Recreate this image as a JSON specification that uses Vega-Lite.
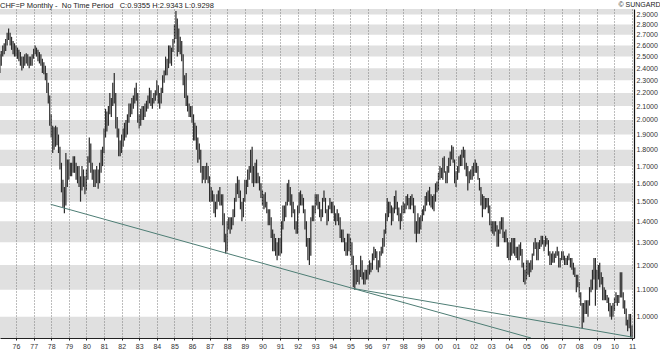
{
"$schema":"https://vega.github.io/schema/vega-lite/v6.json",
"width":634,"height":329,
"autosize":{"type":"none"},
"padding":{"left":0,"top":9,"right":26,"bottom":15},
"background":"white",
"config":{"view":{"stroke":null},"font":"Liberation Sans"},
"title":{"text":"CHF=P Monthly -\u00a0 No Time Period\u00a0\u00a0 C:0.9355 H:2.9343 L:0.9298","anchor":"start","frame":"group","fontSize":7.5,"fontWeight":"normal","color":"#222","offset":-9},
"datasets":{
"bands":[{"lo":0.928,"hi":1.0},{"lo":1.1,"hi":1.2},{"lo":1.3,"hi":1.4},{"lo":1.5,"hi":1.6},{"lo":1.7,"hi":1.8},{"lo":1.9,"hi":2.0},{"lo":2.1,"hi":2.2},{"lo":2.3,"hi":2.4},{"lo":2.5,"hi":2.6},{"lo":2.7,"hi":2.8},{"lo":2.9,"hi":2.956}],
"lines":[{"id":"a","d":"1977-12-20","p":1.486},{"id":"a","d":"2005-04-05","p":0.928},{"id":"b","d":"1995-02-24","p":1.105},{"id":"b","d":"2011-01-01","p":0.931}],
"bars":[
{"m":"1975-02","l":2.36,"h":2.52},{"m":"1975-03","l":2.42,"h":2.55},{"m":"1975-04","l":2.50,"h":2.60},{"m":"1975-05","l":2.52,"h":2.62},{"m":"1975-06","l":2.55,"h":2.66},{"m":"1975-07","l":2.60,"h":2.72},{"m":"1975-08","l":2.65,"h":2.76},{"m":"1975-09","l":2.60,"h":2.72},{"m":"1975-10","l":2.56,"h":2.68},{"m":"1975-11","l":2.52,"h":2.64},{"m":"1975-12","l":2.50,"h":2.62},
{"m":"1976-01","l":2.50,"h":2.60},{"m":"1976-02","l":2.48,"h":2.58},{"m":"1976-03","l":2.46,"h":2.56},{"m":"1976-04","l":2.42,"h":2.54},{"m":"1976-05","l":2.38,"h":2.50},{"m":"1976-06","l":2.40,"h":2.50},{"m":"1976-07","l":2.42,"h":2.52},{"m":"1976-08","l":2.44,"h":2.53},{"m":"1976-09","l":2.42,"h":2.52},{"m":"1976-10","l":2.40,"h":2.50},{"m":"1976-11","l":2.42,"h":2.50},{"m":"1976-12","l":2.42,"h":2.52},
{"m":"1977-01","l":2.48,"h":2.57},{"m":"1977-02","l":2.52,"h":2.60},{"m":"1977-03","l":2.50,"h":2.58},{"m":"1977-04","l":2.46,"h":2.56},{"m":"1977-05","l":2.44,"h":2.54},{"m":"1977-06","l":2.42,"h":2.52},{"m":"1977-07","l":2.36,"h":2.48},{"m":"1977-08","l":2.35,"h":2.45},{"m":"1977-09","l":2.30,"h":2.42},{"m":"1977-10","l":2.20,"h":2.36},{"m":"1977-11","l":2.12,"h":2.28},{"m":"1977-12","l":1.96,"h":2.18},
{"m":"1978-01","l":1.88,"h":2.04},{"m":"1978-02","l":1.78,"h":1.96},{"m":"1978-03","l":1.80,"h":1.95},{"m":"1978-04","l":1.82,"h":1.96},{"m":"1978-05","l":1.83,"h":1.95},{"m":"1978-06","l":1.78,"h":1.90},{"m":"1978-07","l":1.68,"h":1.82},{"m":"1978-08","l":1.55,"h":1.72},{"m":"1978-09","l":1.47,"h":1.62},{"m":"1978-10","l":1.44,"h":1.58},{"m":"1978-11","l":1.48,"h":1.78},{"m":"1978-12","l":1.58,"h":1.74},
{"m":"1979-01","l":1.62,"h":1.74},{"m":"1979-02","l":1.64,"h":1.72},{"m":"1979-03","l":1.64,"h":1.72},{"m":"1979-04","l":1.66,"h":1.76},{"m":"1979-05","l":1.66,"h":1.76},{"m":"1979-06","l":1.62,"h":1.72},{"m":"1979-07","l":1.60,"h":1.70},{"m":"1979-08","l":1.58,"h":1.70},{"m":"1979-09","l":1.50,"h":1.64},{"m":"1979-10","l":1.56,"h":1.70},{"m":"1979-11","l":1.58,"h":1.68},{"m":"1979-12","l":1.54,"h":1.64},
{"m":"1980-01","l":1.56,"h":1.68},{"m":"1980-02","l":1.62,"h":1.76},{"m":"1980-03","l":1.72,"h":1.88},{"m":"1980-04","l":1.66,"h":1.84},{"m":"1980-05","l":1.62,"h":1.72},{"m":"1980-06","l":1.58,"h":1.68},{"m":"1980-07","l":1.58,"h":1.68},{"m":"1980-08","l":1.60,"h":1.70},{"m":"1980-09","l":1.57,"h":1.68},{"m":"1980-10","l":1.60,"h":1.72},{"m":"1980-11","l":1.66,"h":1.80},{"m":"1980-12","l":1.70,"h":1.82},
{"m":"1981-01","l":1.78,"h":1.94},{"m":"1981-02","l":1.88,"h":2.08},{"m":"1981-03","l":1.92,"h":2.06},{"m":"1981-04","l":1.96,"h":2.10},{"m":"1981-05","l":2.04,"h":2.20},{"m":"1981-06","l":2.02,"h":2.16},{"m":"1981-07","l":2.10,"h":2.28},{"m":"1981-08","l":2.12,"h":2.36},{"m":"1981-09","l":1.94,"h":2.20},{"m":"1981-10","l":1.88,"h":2.02},{"m":"1981-11","l":1.76,"h":1.94},{"m":"1981-12","l":1.76,"h":1.86},
{"m":"1982-01","l":1.78,"h":1.90},{"m":"1982-02","l":1.82,"h":1.94},{"m":"1982-03","l":1.86,"h":1.98},{"m":"1982-04","l":1.88,"h":2.00},{"m":"1982-05","l":1.90,"h":2.04},{"m":"1982-06","l":1.98,"h":2.12},{"m":"1982-07","l":2.02,"h":2.12},{"m":"1982-08","l":2.04,"h":2.16},{"m":"1982-09","l":2.08,"h":2.18},{"m":"1982-10","l":2.12,"h":2.24},{"m":"1982-11","l":2.14,"h":2.28},{"m":"1982-12","l":1.98,"h":2.20},
{"m":"1983-01","l":1.94,"h":2.04},{"m":"1983-02","l":1.96,"h":2.08},{"m":"1983-03","l":2.00,"h":2.10},{"m":"1983-04","l":2.00,"h":2.10},{"m":"1983-05","l":2.02,"h":2.12},{"m":"1983-06","l":2.06,"h":2.14},{"m":"1983-07","l":2.08,"h":2.18},{"m":"1983-08","l":2.12,"h":2.24},{"m":"1983-09","l":2.10,"h":2.22},{"m":"1983-10","l":2.08,"h":2.16},{"m":"1983-11","l":2.12,"h":2.20},{"m":"1983-12","l":2.14,"h":2.22},
{"m":"1984-01","l":2.18,"h":2.30},{"m":"1984-02","l":2.12,"h":2.26},{"m":"1984-03","l":2.08,"h":2.20},{"m":"1984-04","l":2.12,"h":2.24},{"m":"1984-05","l":2.20,"h":2.34},{"m":"1984-06","l":2.28,"h":2.38},{"m":"1984-07","l":2.34,"h":2.50},{"m":"1984-08","l":2.34,"h":2.48},{"m":"1984-09","l":2.40,"h":2.60},{"m":"1984-10","l":2.44,"h":2.60},{"m":"1984-11","l":2.42,"h":2.58},{"m":"1984-12","l":2.54,"h":2.66},
{"m":"1985-01","l":2.62,"h":2.80},{"m":"1985-02","l":2.66,"h":2.9343},{"m":"1985-03","l":2.50,"h":2.86},{"m":"1985-04","l":2.54,"h":2.76},{"m":"1985-05","l":2.52,"h":2.68},{"m":"1985-06","l":2.46,"h":2.64},{"m":"1985-07","l":2.26,"h":2.52},{"m":"1985-08","l":2.16,"h":2.34},{"m":"1985-09","l":2.10,"h":2.36},{"m":"1985-10","l":2.06,"h":2.18},{"m":"1985-11","l":2.02,"h":2.12},{"m":"1985-12","l":2.02,"h":2.10},
{"m":"1986-01","l":1.98,"h":2.10},{"m":"1986-02","l":1.86,"h":2.04},{"m":"1986-03","l":1.86,"h":1.98},{"m":"1986-04","l":1.80,"h":1.96},{"m":"1986-05","l":1.72,"h":1.88},{"m":"1986-06","l":1.74,"h":1.84},{"m":"1986-07","l":1.66,"h":1.80},{"m":"1986-08","l":1.60,"h":1.70},{"m":"1986-09","l":1.62,"h":1.70},{"m":"1986-10","l":1.60,"h":1.70},{"m":"1986-11","l":1.62,"h":1.72},{"m":"1986-12","l":1.60,"h":1.70},
{"m":"1987-01","l":1.50,"h":1.64},{"m":"1987-02","l":1.50,"h":1.58},{"m":"1987-03","l":1.50,"h":1.56},{"m":"1987-04","l":1.44,"h":1.54},{"m":"1987-05","l":1.42,"h":1.50},{"m":"1987-06","l":1.46,"h":1.54},{"m":"1987-07","l":1.50,"h":1.56},{"m":"1987-08","l":1.48,"h":1.58},{"m":"1987-09","l":1.48,"h":1.54},{"m":"1987-10","l":1.38,"h":1.54},{"m":"1987-11","l":1.30,"h":1.44},{"m":"1987-12","l":1.25,"h":1.34},
{"m":"1988-01","l":1.26,"h":1.40},{"m":"1988-02","l":1.36,"h":1.42},{"m":"1988-03","l":1.34,"h":1.42},{"m":"1988-04","l":1.36,"h":1.42},{"m":"1988-05","l":1.38,"h":1.46},{"m":"1988-06","l":1.42,"h":1.52},{"m":"1988-07","l":1.50,"h":1.60},{"m":"1988-08","l":1.54,"h":1.64},{"m":"1988-09","l":1.52,"h":1.62},{"m":"1988-10","l":1.46,"h":1.56},{"m":"1988-11","l":1.40,"h":1.50},{"m":"1988-12","l":1.42,"h":1.52},
{"m":"1989-01","l":1.50,"h":1.62},{"m":"1989-02","l":1.54,"h":1.62},{"m":"1989-03","l":1.58,"h":1.68},{"m":"1989-04","l":1.62,"h":1.70},{"m":"1989-05","l":1.66,"h":1.80},{"m":"1989-06","l":1.60,"h":1.82},{"m":"1989-07","l":1.58,"h":1.70},{"m":"1989-08","l":1.60,"h":1.72},{"m":"1989-09","l":1.60,"h":1.74},{"m":"1989-10","l":1.60,"h":1.66},{"m":"1989-11","l":1.56,"h":1.64},{"m":"1989-12","l":1.52,"h":1.60},
{"m":"1990-01","l":1.48,"h":1.56},{"m":"1990-02","l":1.46,"h":1.54},{"m":"1990-03","l":1.47,"h":1.55},{"m":"1990-04","l":1.44,"h":1.50},{"m":"1990-05","l":1.38,"h":1.46},{"m":"1990-06","l":1.38,"h":1.46},{"m":"1990-07","l":1.32,"h":1.42},{"m":"1990-08","l":1.26,"h":1.36},{"m":"1990-09","l":1.26,"h":1.34},{"m":"1990-10","l":1.24,"h":1.32},{"m":"1990-11","l":1.22,"h":1.30},{"m":"1990-12","l":1.24,"h":1.32},
{"m":"1991-01","l":1.24,"h":1.32},{"m":"1991-02","l":1.25,"h":1.40},{"m":"1991-03","l":1.36,"h":1.48},{"m":"1991-04","l":1.40,"h":1.48},{"m":"1991-05","l":1.42,"h":1.50},{"m":"1991-06","l":1.48,"h":1.60},{"m":"1991-07","l":1.50,"h":1.62},{"m":"1991-08","l":1.48,"h":1.58},{"m":"1991-09","l":1.42,"h":1.54},{"m":"1991-10","l":1.44,"h":1.50},{"m":"1991-11","l":1.36,"h":1.46},{"m":"1991-12","l":1.34,"h":1.40},
{"m":"1992-01","l":1.34,"h":1.48},{"m":"1992-02","l":1.44,"h":1.55},{"m":"1992-03","l":1.48,"h":1.56},{"m":"1992-04","l":1.48,"h":1.54},{"m":"1992-05","l":1.44,"h":1.52},{"m":"1992-06","l":1.36,"h":1.46},{"m":"1992-07","l":1.28,"h":1.40},{"m":"1992-08","l":1.22,"h":1.32},{"m":"1992-09","l":1.20,"h":1.32},{"m":"1992-10","l":1.24,"h":1.42},{"m":"1992-11","l":1.40,"h":1.48},{"m":"1992-12","l":1.40,"h":1.48},
{"m":"1993-01","l":1.44,"h":1.54},{"m":"1993-02","l":1.48,"h":1.54},{"m":"1993-03","l":1.46,"h":1.54},{"m":"1993-04","l":1.42,"h":1.50},{"m":"1993-05","l":1.40,"h":1.46},{"m":"1993-06","l":1.42,"h":1.52},{"m":"1993-07","l":1.50,"h":1.56},{"m":"1993-08","l":1.44,"h":1.52},{"m":"1993-09","l":1.38,"h":1.46},{"m":"1993-10","l":1.40,"h":1.48},{"m":"1993-11","l":1.46,"h":1.52},{"m":"1993-12","l":1.44,"h":1.50},
{"m":"1994-01","l":1.44,"h":1.50},{"m":"1994-02","l":1.40,"h":1.48},{"m":"1994-03","l":1.38,"h":1.44},{"m":"1994-04","l":1.40,"h":1.46},{"m":"1994-05","l":1.38,"h":1.44},{"m":"1994-06","l":1.32,"h":1.42},{"m":"1994-07","l":1.30,"h":1.36},{"m":"1994-08","l":1.30,"h":1.36},{"m":"1994-09","l":1.26,"h":1.32},{"m":"1994-10","l":1.24,"h":1.30},{"m":"1994-11","l":1.24,"h":1.34},{"m":"1994-12","l":1.26,"h":1.34},
{"m":"1995-01","l":1.24,"h":1.32},{"m":"1995-02","l":1.20,"h":1.30},{"m":"1995-03","l":1.11,"h":1.24},{"m":"1995-04","l":1.10,"h":1.18},{"m":"1995-05","l":1.12,"h":1.20},{"m":"1995-06","l":1.13,"h":1.18},{"m":"1995-07","l":1.12,"h":1.18},{"m":"1995-08","l":1.15,"h":1.24},{"m":"1995-09","l":1.14,"h":1.22},{"m":"1995-10","l":1.12,"h":1.17},{"m":"1995-11","l":1.12,"h":1.18},{"m":"1995-12","l":1.14,"h":1.18},
{"m":"1996-01","l":1.14,"h":1.20},{"m":"1996-02","l":1.16,"h":1.22},{"m":"1996-03","l":1.17,"h":1.21},{"m":"1996-04","l":1.18,"h":1.25},{"m":"1996-05","l":1.22,"h":1.28},{"m":"1996-06","l":1.23,"h":1.27},{"m":"1996-07","l":1.18,"h":1.26},{"m":"1996-08","l":1.17,"h":1.22},{"m":"1996-09","l":1.19,"h":1.26},{"m":"1996-10","l":1.24,"h":1.28},{"m":"1996-11","l":1.25,"h":1.32},{"m":"1996-12","l":1.28,"h":1.36},
{"m":"1997-01","l":1.34,"h":1.44},{"m":"1997-02","l":1.40,"h":1.52},{"m":"1997-03","l":1.42,"h":1.50},{"m":"1997-04","l":1.44,"h":1.50},{"m":"1997-05","l":1.38,"h":1.48},{"m":"1997-06","l":1.40,"h":1.47},{"m":"1997-07","l":1.44,"h":1.53},{"m":"1997-08","l":1.46,"h":1.56},{"m":"1997-09","l":1.43,"h":1.50},{"m":"1997-10","l":1.40,"h":1.47},{"m":"1997-11","l":1.36,"h":1.44},{"m":"1997-12","l":1.40,"h":1.48},
{"m":"1998-01","l":1.44,"h":1.50},{"m":"1998-02","l":1.44,"h":1.49},{"m":"1998-03","l":1.46,"h":1.53},{"m":"1998-04","l":1.48,"h":1.54},{"m":"1998-05","l":1.46,"h":1.52},{"m":"1998-06","l":1.46,"h":1.53},{"m":"1998-07","l":1.48,"h":1.54},{"m":"1998-08","l":1.44,"h":1.52},{"m":"1998-09","l":1.34,"h":1.48},{"m":"1998-10","l":1.30,"h":1.40},{"m":"1998-11","l":1.34,"h":1.44},{"m":"1998-12","l":1.34,"h":1.42},
{"m":"1999-01","l":1.36,"h":1.43},{"m":"1999-02","l":1.40,"h":1.46},{"m":"1999-03","l":1.43,"h":1.48},{"m":"1999-04","l":1.45,"h":1.53},{"m":"1999-05","l":1.48,"h":1.55},{"m":"1999-06","l":1.50,"h":1.56},{"m":"1999-07","l":1.48,"h":1.58},{"m":"1999-08","l":1.47,"h":1.54},{"m":"1999-09","l":1.46,"h":1.53},{"m":"1999-10","l":1.45,"h":1.54},{"m":"1999-11","l":1.50,"h":1.60},{"m":"1999-12","l":1.55,"h":1.61},
{"m":"2000-01","l":1.56,"h":1.66},{"m":"2000-02","l":1.62,"h":1.70},{"m":"2000-03","l":1.63,"h":1.69},{"m":"2000-04","l":1.62,"h":1.75},{"m":"2000-05","l":1.66,"h":1.76},{"m":"2000-06","l":1.60,"h":1.67},{"m":"2000-07","l":1.60,"h":1.70},{"m":"2000-08","l":1.66,"h":1.75},{"m":"2000-09","l":1.70,"h":1.79},{"m":"2000-10","l":1.74,"h":1.83},{"m":"2000-11","l":1.72,"h":1.82},{"m":"2000-12","l":1.60,"h":1.74},
{"m":"2001-01","l":1.58,"h":1.67},{"m":"2001-02","l":1.62,"h":1.70},{"m":"2001-03","l":1.66,"h":1.76},{"m":"2001-04","l":1.70,"h":1.77},{"m":"2001-05","l":1.70,"h":1.80},{"m":"2001-06","l":1.75,"h":1.82},{"m":"2001-07","l":1.68,"h":1.80},{"m":"2001-08","l":1.64,"h":1.72},{"m":"2001-09","l":1.56,"h":1.70},{"m":"2001-10","l":1.60,"h":1.67},{"m":"2001-11","l":1.62,"h":1.68},{"m":"2001-12","l":1.62,"h":1.70},
{"m":"2002-01","l":1.64,"h":1.72},{"m":"2002-02","l":1.66,"h":1.74},{"m":"2002-03","l":1.66,"h":1.72},{"m":"2002-04","l":1.62,"h":1.70},{"m":"2002-05","l":1.56,"h":1.63},{"m":"2002-06","l":1.48,"h":1.58},{"m":"2002-07","l":1.42,"h":1.54},{"m":"2002-08","l":1.46,"h":1.53},{"m":"2002-09","l":1.46,"h":1.52},{"m":"2002-10","l":1.47,"h":1.52},{"m":"2002-11","l":1.44,"h":1.52},{"m":"2002-12","l":1.38,"h":1.48},
{"m":"2003-01","l":1.35,"h":1.40},{"m":"2003-02","l":1.34,"h":1.40},{"m":"2003-03","l":1.33,"h":1.40},{"m":"2003-04","l":1.35,"h":1.40},{"m":"2003-05","l":1.28,"h":1.38},{"m":"2003-06","l":1.28,"h":1.36},{"m":"2003-07","l":1.34,"h":1.40},{"m":"2003-08","l":1.36,"h":1.42},{"m":"2003-09","l":1.32,"h":1.42},{"m":"2003-10","l":1.30,"h":1.35},{"m":"2003-11","l":1.30,"h":1.36},{"m":"2003-12","l":1.23,"h":1.32},
{"m":"2004-01","l":1.22,"h":1.30},{"m":"2004-02","l":1.22,"h":1.30},{"m":"2004-03","l":1.24,"h":1.32},{"m":"2004-04","l":1.25,"h":1.32},{"m":"2004-05","l":1.24,"h":1.32},{"m":"2004-06","l":1.23,"h":1.28},{"m":"2004-07","l":1.22,"h":1.28},{"m":"2004-08","l":1.22,"h":1.29},{"m":"2004-09","l":1.24,"h":1.30},{"m":"2004-10","l":1.19,"h":1.27},{"m":"2004-11","l":1.13,"h":1.21},{"m":"2004-12","l":1.12,"h":1.18},
{"m":"2005-01","l":1.14,"h":1.22},{"m":"2005-02","l":1.16,"h":1.22},{"m":"2005-03","l":1.15,"h":1.21},{"m":"2005-04","l":1.17,"h":1.22},{"m":"2005-05","l":1.18,"h":1.25},{"m":"2005-06","l":1.24,"h":1.30},{"m":"2005-07","l":1.27,"h":1.32},{"m":"2005-08","l":1.22,"h":1.30},{"m":"2005-09","l":1.22,"h":1.30},{"m":"2005-10","l":1.27,"h":1.31},{"m":"2005-11","l":1.28,"h":1.33},{"m":"2005-12","l":1.29,"h":1.33},
{"m":"2006-01","l":1.26,"h":1.31},{"m":"2006-02","l":1.28,"h":1.33},{"m":"2006-03","l":1.29,"h":1.32},{"m":"2006-04","l":1.24,"h":1.31},{"m":"2006-05","l":1.20,"h":1.26},{"m":"2006-06","l":1.20,"h":1.25},{"m":"2006-07","l":1.21,"h":1.26},{"m":"2006-08","l":1.21,"h":1.25},{"m":"2006-09","l":1.23,"h":1.26},{"m":"2006-10","l":1.24,"h":1.28},{"m":"2006-11","l":1.19,"h":1.26},{"m":"2006-12","l":1.19,"h":1.23},
{"m":"2007-01","l":1.22,"h":1.26},{"m":"2007-02","l":1.22,"h":1.26},{"m":"2007-03","l":1.20,"h":1.24},{"m":"2007-04","l":1.20,"h":1.23},{"m":"2007-05","l":1.20,"h":1.24},{"m":"2007-06","l":1.22,"h":1.25},{"m":"2007-07","l":1.19,"h":1.23},{"m":"2007-08","l":1.18,"h":1.23},{"m":"2007-09","l":1.16,"h":1.21},{"m":"2007-10","l":1.15,"h":1.19},{"m":"2007-11","l":1.09,"h":1.16},{"m":"2007-12","l":1.11,"h":1.16},
{"m":"2008-01","l":1.07,"h":1.13},{"m":"2008-02","l":1.04,"h":1.09},{"m":"2008-03","l":0.96,"h":1.05},{"m":"2008-04","l":0.98,"h":1.05},{"m":"2008-05","l":1.01,"h":1.06},{"m":"2008-06","l":1.01,"h":1.06},{"m":"2008-07","l":1.00,"h":1.06},{"m":"2008-08","l":1.04,"h":1.11},{"m":"2008-09","l":1.09,"h":1.14},{"m":"2008-10","l":1.10,"h":1.18},{"m":"2008-11","l":1.14,"h":1.23},{"m":"2008-12","l":1.04,"h":1.23},
{"m":"2009-01","l":1.10,"h":1.18},{"m":"2009-02","l":1.14,"h":1.20},{"m":"2009-03","l":1.11,"h":1.21},{"m":"2009-04","l":1.12,"h":1.17},{"m":"2009-05","l":1.06,"h":1.15},{"m":"2009-06","l":1.06,"h":1.11},{"m":"2009-07","l":1.06,"h":1.10},{"m":"2009-08","l":1.05,"h":1.08},{"m":"2009-09","l":1.02,"h":1.07},{"m":"2009-10","l":1.00,"h":1.05},{"m":"2009-11","l":0.99,"h":1.04},{"m":"2009-12","l":1.00,"h":1.05},
{"m":"2010-01","l":1.02,"h":1.07},{"m":"2010-02","l":1.05,"h":1.09},{"m":"2010-03","l":1.04,"h":1.08},{"m":"2010-04","l":1.05,"h":1.08},{"m":"2010-05","l":1.07,"h":1.17},{"m":"2010-06","l":1.07,"h":1.17},{"m":"2010-07","l":1.03,"h":1.09},{"m":"2010-08","l":1.01,"h":1.06},{"m":"2010-09","l":0.97,"h":1.03},{"m":"2010-10","l":0.95,"h":0.99},{"m":"2010-11","l":0.96,"h":1.01},{"m":"2010-12","l":0.93,"h":1.01},
{"m":"2011-01","l":0.9298,"h":0.97}
]},
"layer":[
{"data":{"name":"bands"},"mark":{"type":"rect","color":"#e0e0e0","clip":true},
 "encoding":{"y":{"field":"lo","type":"quantitative","scale":{"type":"log","domain":[0.928,2.956],"nice":false,"zero":false},
   "axis":{"orient":"right","values":[1.0,1.1,1.2,1.3,1.4,1.5,1.6,1.7,1.8,1.9,2.0,2.1,2.2,2.3,2.4,2.5,2.6,2.7,2.8,2.9],"format":".4f","grid":false,"ticks":false,"labelPadding":2,"labelFontSize":7,"labelColor":"#333","domainColor":"#111","domainWidth":1.2,"title":"\u00a9 SUNGARD","titleAngle":0,"titleX":26,"titleY":-5,"titleAlign":"right","titleBaseline":"middle","titleFontSize":7,"titleFontWeight":"normal","titleColor":"#222"}},
  "y2":{"field":"hi"}}},
{"data":{"name":"bars"},"mark":{"type":"rule","color":"#2a2a2a","strokeWidth":1.2},
 "encoding":{
  "x":{"field":"m","type":"temporal","scale":{"type":"utc","domain":[160617600000,1297296000000]},
   "axis":{"title":null,"format":"%y","tickCount":{"interval":"year","step":1},"labelOverlap":false,"grid":true,"gridDash":[1,2],"gridColor":"#7a7a7a","gridWidth":1,"zindex":1,"domainColor":"#222","tickColor":"#222","tickSize":2,"labelFontSize":7,"labelColor":"#333","labelPadding":2,"labelFlush":false}},
  "y":{"field":"l","type":"quantitative","title":"\u00a9 SUNGARD"},
  "y2":{"field":"h"}}},
{"data":{"name":"lines"},"mark":{"type":"line","color":"#4d7d74","strokeWidth":1,"clip":true},
 "encoding":{"x":{"field":"d","type":"temporal","title":null},"y":{"field":"p","type":"quantitative","title":"\u00a9 SUNGARD"},"detail":{"field":"id"}}}
]
}
